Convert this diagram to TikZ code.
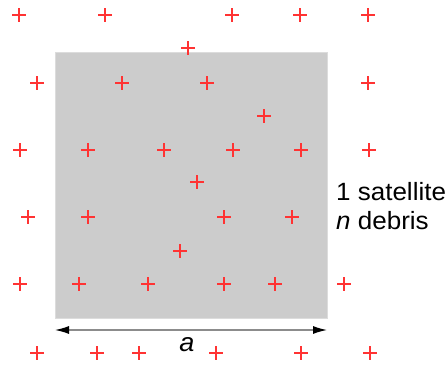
\documentclass[tikz,border=0pt]{standalone}
\usepackage{fontspec}
\setmainfont{Liberation Sans}
\newfontfamily\labelfont[FakeStretch=1.04]{Liberation Sans}
\usetikzlibrary{arrows.meta}
\definecolor{debrisRed}{HTML}{FF3333}
\definecolor{boxGray}{HTML}{CCCCCC}
\definecolor{boxEdge}{HTML}{DCDCDC}
\definecolor{arrowGray}{HTML}{8C8C8C}

\begin{document}
\begin{tikzpicture}[
    x=1pt, y=-1pt,
    >={Latex[length=14pt,width=8pt,color=black]},
    debris/.style={debrisRed, line width=2pt},
    every node/.style={inner sep=0pt},
  ]
  \useasboundingbox (0,0) rectangle (448,367);

  % Square region of side a
  \coordinate (SW) at (55,318);
  \coordinate (NE) at (327,52);
  \draw[boxEdge, fill=boxGray, line width=1pt] (SW) rectangle (NE);

  % Debris positions
  \foreach \x/\y in {19/15, 105/15, 232/15, 300/15, 368/15,
      188/48,
      37/83, 122/83, 207/83, 368/83,
      264/116,
      20/150, 88/150, 164/150, 233/150, 301/150, 369/150,
      197/182,
      28/217, 88/217, 224/217, 292/217,
      180/251,
      20/284, 79/284, 148/284, 224/284, 275/284, 344/284,
      37/353, 97/353, 139/353, 216/353, 301/353, 370/353}
    \draw[debris] (\x,\y) +(-7,0) -- +(7,0) +(0,-7) -- +(0,7);

  % Side length
  \coordinate (aL) at (55,330);
  \coordinate (aR) at (327,330);
  \draw[<->, arrowGray, line width=1.2pt] (aL) -- (aR);
  \node[font=\labelfont\fontsize{26}{30}\selectfont\itshape] (side) at (187,345) {a};

  % Counts
  \node[anchor=base west, font=\labelfont\fontsize{25}{29}\selectfont] (sat) at (336,200) {1 satellite};
  \node[anchor=base west, font=\labelfont\fontsize{25}{29}\selectfont] (deb) at (336,229) {\textit{n} debris};
\end{tikzpicture}
\end{document}
